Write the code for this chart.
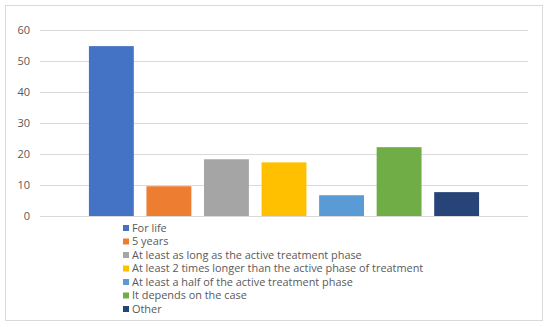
<!DOCTYPE html>
<html>
<head>
<meta charset="utf-8">
<script src="https://cdn.jsdelivr.net/npm/d3@7"></script>
<style>
  body { margin: 0; background: #fff; }
  text { font-family: "Open Sans", "Noto Sans", sans-serif; fill: #595959; }
</style>
</head>
<body>
<script>
var categories = [
  'For life',
  '5 years',
  'At least as long as the active treatment phase',
  'At least 2 times longer than the active phase of treatment',
  'At least a half of the active treatment phase',
  'It depends on the case',
  'Other'
];
var values = [54.8, 9.6, 18.3, 17.3, 6.7, 22.2, 7.7];
var colors = ['#4472C4', '#ED7D31', '#A5A5A5', '#FFC000', '#5B9BD5', '#70AD47', '#264478'];
var yTicks = [0, 10, 20, 30, 40, 50, 60];

var w = 550;
var h = 327;

var svg = d3
  .select('body')
  .append('svg')
  .attr('width', w)
  .attr('height', h);

// outer frame
svg
  .append('rect')
  .attr('x', 5.5)
  .attr('y', 5.5)
  .attr('width', 537)
  .attr('height', 315)
  .attr('fill', '#fff')
  .attr('stroke', '#d9d9d9');

var xScale = d3
  .scaleBand()
  .domain(categories)
  .range([40, 528])
  .paddingInner(0.22)
  .paddingOuter(0.85);

var yScale = d3
  .scaleLinear()
  .domain([0, 60])
  .range([216, 30]);

var yAxis = d3
  .axisLeft(yScale)
  .tickValues(yTicks)
  .tickSize(-(528 - 40))
  .tickPadding(10);

var gy = svg
  .append('g')
  .attr('class', 'y axis')
  .attr('transform', 'translate(40, 0)')
  .call(yAxis);

gy.select('.domain').remove();
gy.selectAll('.tick line').attr('stroke', '#d9d9d9');
gy.selectAll('.tick text')
  .attr('font-size', 11)
  .style('fill', '#595959');

svg
  .append('g')
  .selectAll('rect')
  .data(values)
  .enter()
  .append('rect')
  .attr('x', (d, i) => xScale(categories[i]))
  .attr('y', d => yScale(d))
  .attr('width', xScale.bandwidth())
  .attr('height', d => yScale(0) - yScale(d))
  .attr('fill', (d, i) => colors[i]);

// legend below the plot
var legend = svg
  .append('g')
  .attr('transform', 'translate(123, 228)');

var item = legend
  .selectAll('g')
  .data(categories)
  .enter()
  .append('g')
  .attr('transform', (d, i) => `translate(0, ${i * 13.5})`);

item
  .append('rect')
  .attr('x', 0)
  .attr('y', -3)
  .attr('width', 6)
  .attr('height', 6)
  .attr('fill', (d, i) => colors[i]);

item
  .append('text')
  .attr('x', 9)
  .attr('y', 0)
  .attr('dy', '0.35em')
  .attr('font-size', 10.9)
  .text(d => d);
</script>
</body>
</html>
